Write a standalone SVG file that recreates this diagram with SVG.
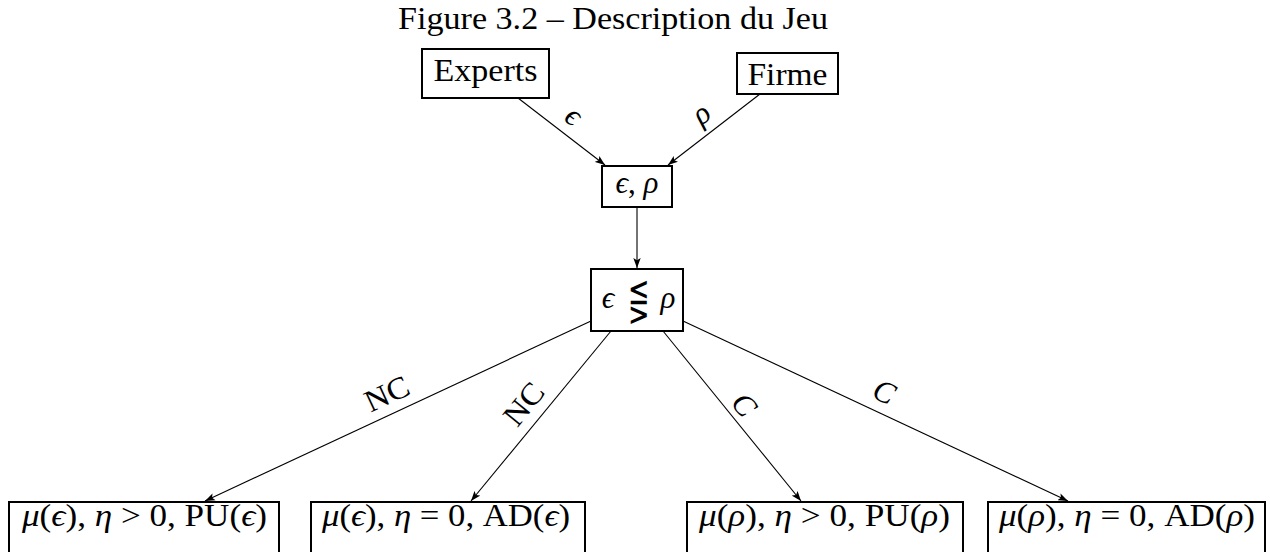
<svg xmlns="http://www.w3.org/2000/svg" width="1270" height="552" viewBox="0 0 1270 552">
<style>
.t{font-family:"Liberation Serif","DejaVu Serif",serif;font-size:31px;fill:#000}
.m{font-style:italic}
.box{fill:#fff;stroke:#000;stroke-width:2}
.edge{stroke:#000;stroke-width:1.1;fill:none;marker-end:url(#arr)}
</style>
<defs>
<marker id="arr" markerUnits="userSpaceOnUse" markerWidth="11" markerHeight="8" refX="10" refY="4" orient="auto">
<path d="M0,0.3 L10,4 L0,7.7 L2.2,4 Z" fill="#000"/>
</marker>
</defs>
<rect width="1270" height="552" fill="#fff"/>
<text id="title" class="t" x="398" y="29" textLength="430" lengthAdjust="spacingAndGlyphs">Figure 3.2 – Description du Jeu</text>
<g id="connectors">
<line class="edge" x1="518" y1="98" x2="605" y2="165"/>
<line class="edge" x1="760" y1="94" x2="668" y2="165"/>
<line class="edge" x1="637" y1="207" x2="637" y2="268"/>
<line class="edge" x1="591" y1="321" x2="205" y2="501"/>
<line class="edge" x1="611" y1="331" x2="471" y2="501"/>
<line class="edge" x1="663" y1="331" x2="801" y2="501"/>
<line class="edge" x1="683" y1="321" x2="1068" y2="501"/>
<text class="t m" text-anchor="middle" transform="translate(572,118) rotate(37)" dy="7">ϵ</text>
<text class="t m" text-anchor="middle" transform="translate(703,116) rotate(-37.5)" dy="7">ρ</text>
<text class="t" text-anchor="middle" transform="translate(387,394) rotate(-25)" dy="10" textLength="46" lengthAdjust="spacingAndGlyphs">NC</text>
<text class="t" text-anchor="middle" transform="translate(524,404) rotate(-50.7)" dy="10" textLength="46" lengthAdjust="spacingAndGlyphs">NC</text>
<text class="t m" text-anchor="middle" transform="translate(744,405) rotate(50.7)" dy="10">C</text>
<text class="t m" text-anchor="middle" transform="translate(884,392) rotate(25)" dy="10">C</text>
</g>
<g id="experts">
<rect class="box" x="422" y="49" width="127" height="49"/>
<text class="t" x="485.5" y="81" text-anchor="middle" textLength="104" lengthAdjust="spacingAndGlyphs">Experts</text>
</g>
<g id="firme">
<rect class="box" x="737" y="53" width="101" height="41"/>
<text class="t" x="787.5" y="84.5" text-anchor="middle" textLength="80" lengthAdjust="spacingAndGlyphs">Firme</text>
</g>
<g id="eps-rho">
<rect class="box" x="602" y="166" width="70" height="41"/>
<text class="t" x="637" y="193" text-anchor="middle"><tspan class="m">ϵ</tspan>,  <tspan class="m">ρ</tspan></text>
</g>
<g id="compare">
<rect class="box" x="591" y="269" width="92" height="62"/>
<text class="t m" x="608" y="308" text-anchor="middle">ϵ</text>
<text transform="translate(639,315) scale(0.8,1.25)" text-anchor="middle" style="font-family:'DejaVu Sans',sans-serif;font-size:32px;font-weight:200;fill:#000">⋚</text>
<text class="t m" x="668" y="308" text-anchor="middle">ρ</text>
</g>
<g id="out1">
<rect class="box" x="9" y="502" width="270" height="60"/>
<text class="t" x="22" y="526" textLength="245" lengthAdjust="spacingAndGlyphs"><tspan class="m">μ</tspan>(<tspan class="m">ϵ</tspan>), <tspan class="m">η</tspan> &gt; 0, PU(<tspan class="m">ϵ</tspan>)</text>
</g>
<g id="out2">
<rect class="box" x="311" y="502" width="274" height="60"/>
<text class="t" x="322" y="526" textLength="248" lengthAdjust="spacingAndGlyphs"><tspan class="m">μ</tspan>(<tspan class="m">ϵ</tspan>), <tspan class="m">η</tspan> = 0, AD(<tspan class="m">ϵ</tspan>)</text>
</g>
<g id="out3">
<rect class="box" x="687" y="502" width="276" height="60"/>
<text class="t" x="699" y="526" textLength="251" lengthAdjust="spacingAndGlyphs"><tspan class="m">μ</tspan>(<tspan class="m">ρ</tspan>), <tspan class="m">η</tspan> &gt; 0, PU(<tspan class="m">ρ</tspan>)</text>
</g>
<g id="out4">
<rect class="box" x="988" y="502" width="277" height="60"/>
<text class="t" x="999" y="526" textLength="256" lengthAdjust="spacingAndGlyphs"><tspan class="m">μ</tspan>(<tspan class="m">ρ</tspan>), <tspan class="m">η</tspan> = 0, AD(<tspan class="m">ρ</tspan>)</text>
</g>
</svg>
